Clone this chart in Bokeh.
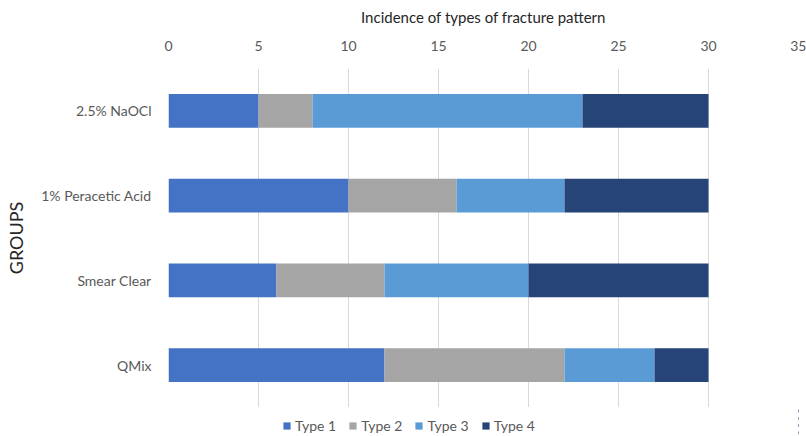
from bokeh.plotting import figure
from bokeh.layouts import column
from bokeh.models import FactorRange, Range1d, Legend, LegendItem, LinearAxis, FixedTicker, ColumnDataSource
from bokeh.embed import file_html
from bokeh.resources import INLINE

groups = ["QMix", "Smear Clear", "1% Peracetic Acid", "2.5% NaOCl"]
type1 = [12, 6, 10, 5]
type2 = [10, 6, 6, 3]
type3 = [5, 8, 6, 15]
type4 = [3, 10, 8, 7]
series = ["Type 1", "Type 2", "Type 3", "Type 4"]
colors = ["#4472C4", "#A5A5A5", "#5B9BD5", "#264478"]
x_ticks = [0, 5, 10, 15, 20, 25, 30, 35]

src = ColumnDataSource(dict(groups=groups, t1=type1, t2=type2, t3=type3, t4=type4))

p = figure(width=806, height=407, output_backend="svg", toolbar_location=None,
           y_range=FactorRange(factors=groups, range_padding=0),
           x_range=Range1d(0, 35), x_axis_location=None)
p.frame_width = 630
p.frame_height = 339
p.min_border_left = 168
p.min_border_right = 8
p.min_border_top = 68
p.min_border_bottom = 0
p.outline_line_color = None

renderers = p.hbar_stack(["t1", "t2", "t3", "t4"], y="groups", height=0.4, color=colors,
                         source=src, line_color=None)

FONT = "Lato"
ax = LinearAxis(ticker=FixedTicker(ticks=x_ticks))
ax.axis_line_color = None
ax.major_tick_line_color = None
ax.minor_tick_line_color = None
ax.major_label_text_color = "#595959"
ax.major_label_text_font = FONT
ax.major_label_text_font_size = "14px"
ax.major_label_standoff = 12
ax.axis_label = "Incidence of types of fracture pattern"
ax.axis_label_text_font = FONT
ax.axis_label_text_font_style = "normal"
ax.axis_label_text_font_size = "15px"
ax.axis_label_text_color = "#262626"
ax.axis_label_standoff = 12
p.add_layout(ax, "above")

p.xgrid.ticker = FixedTicker(ticks=x_ticks)
p.xgrid.grid_line_color = "#d9d9d9"
p.ygrid.grid_line_color = None

ya = p.yaxis[0]
ya.axis_line_color = None
ya.major_tick_line_color = None
ya.minor_tick_line_color = None
ya.major_label_text_color = "#595959"
ya.major_label_text_font = FONT
ya.major_label_text_font_size = "14px"
ya.major_label_standoff = 11
ya.axis_label = "GROUPS"
ya.axis_label_text_font = FONT
ya.axis_label_text_font_style = "normal"
ya.axis_label_text_font_size = "18px"
ya.axis_label_text_color = "#262626"
ya.axis_label_standoff = 11

# legend strip below the chart (its bars lie outside its own visible x range)
p2 = figure(width=806, height=29, output_backend="svg", toolbar_location=None,
            x_range=Range1d(-2, -1), y_range=FactorRange(factors=groups),
            x_axis_location=None, y_axis_location=None)
p2.min_border = 0
p2.outline_line_color = None
p2.xgrid.grid_line_color = None
p2.ygrid.grid_line_color = None
leg_renderers = p2.hbar_stack(["t1", "t2", "t3", "t4"], y="groups", height=0.4, color=colors,
                              source=src, line_color=None)

legend = Legend(items=[LegendItem(label=s, renderers=[r]) for s, r in zip(series, leg_renderers)],
                orientation="horizontal", location=(114, 2))
legend.label_text_font = FONT
legend.label_text_font_size = "14px"
legend.label_text_color = "#595959"
legend.glyph_width = 9
legend.glyph_height = 9
legend.label_standoff = 4
legend.spacing = 12
legend.padding = 2
legend.margin = 0
legend.border_line_color = None
legend.background_fill_alpha = 0
p2.add_layout(legend, "center")

open("out.html", "w").write(file_html(column(p, p2, spacing=0), INLINE))
